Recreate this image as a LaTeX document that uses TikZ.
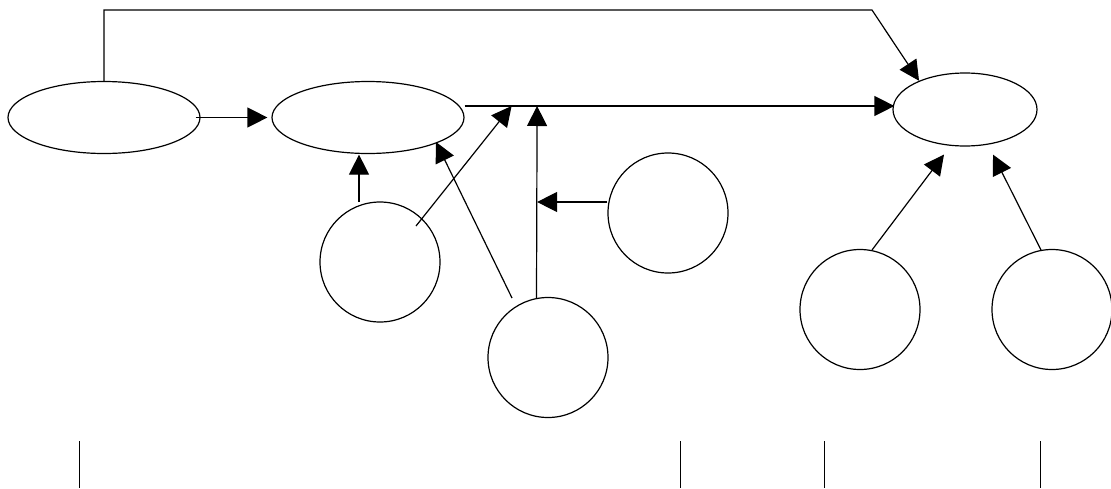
\documentclass[tikz,border=0pt]{standalone}
\usetikzlibrary{arrows.meta,calc,shapes.geometric}
\begin{document}
\begin{tikzpicture}[x=1pt,y=-1pt,
  line width=1.2pt,
  oval/.style={draw,ellipse,inner sep=0pt,minimum width=192pt,minimum height=72pt},
  ball/.style={draw,circle,inner sep=0pt,minimum size=120pt},
  arr/.style={-{Triangle[length=20pt,width=20pt]}},
  tick/.style={line width=0.8pt}]
\useasboundingbox (0,0) rectangle (1111,488);

% ellipses
\node[oval] (A) at (104,117.5) {};
\node[oval] (B) at (368,117.5) {};
\node[oval,minimum width=144pt,minimum height=73pt] (C) at (965,109.5) {};

% circles
\node[ball] (D) at (380,262) {};
\node[ball] (E) at (668,213) {};
\node[ball] (F) at (548,357.5) {};
\node[ball] (G) at (860,309.5) {};
\node[ball] (H) at (1052,309.5) {};

% junctions on the line from B to C, and the bend of the top route
\coordinate (j1) at ($(B.east)+(47,-11.5)$);
\coordinate (j2) at ($(B.east)+(72.5,-11.5)$);
\coordinate (bend) at (872,10);

% connectors
\draw[arr] (A.north) |- (bend) -- (C.148);
\draw[arr] ($(A.east)+(-5,0)$) -- ($(B.west)+(-4,0)$);
\draw[arr] ($(B.east)+(0,-11.5)$) -- ($(C.west)+(2,-3.5)$);
\draw[arr] ($(D.center)+(-21,-60)$) -- ($(B.south)+(-9,0.5)$);
\draw[arr] ($(D.center)+(36,-36)$) -- (j1);
\draw[arr] ($(F.center)+(-11.5,-59.5)$) -- (j2);
\draw[arr] ($(F.center)+(-36,-59.5)$) -- ($(B.center)+(68,24.5)$);
\draw[arr] ($(E.west)+(0,-11)$) coordinate (e0) -- (e0 -| j2);
\draw[arr] ($(G.center)+(12,-59.5)$) -- ($(C.south)+(-21,8)$);
\draw[arr] ($(H.center)+(-11,-59.5)$) -- ($(C.south)+(28,8)$);

% short vertical marks along the bottom edge
\foreach \x in {79,680,824,1040}
  \draw[tick] (\x,441) -- (\x,488);
\end{tikzpicture}
\end{document}
